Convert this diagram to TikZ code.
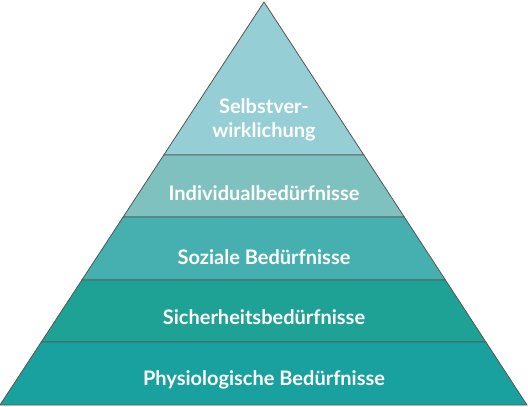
\documentclass[tikz,border=0pt]{standalone}
\usepackage{fontspec}
\setmainfont{Lato}
\usetikzlibrary{calc}

\definecolor{tierA}{HTML}{96CED6}
\definecolor{tierB}{HTML}{7EC1BF}
\definecolor{tierC}{HTML}{45B0AF}
\definecolor{tierD}{HTML}{1FA296}
\definecolor{tierE}{HTML}{18A19E}
\definecolor{edgegray}{HTML}{555555}

\begin{document}
\begin{tikzpicture}[x=1pt, y=-1pt,
    tier/.style={draw=edgegray, line width=.8pt, line join=miter},
    tiertext/.style={text=white, font=\bfseries\fontsize{20}{24}\selectfont, align=center}]

    \useasboundingbox (0,0) rectangle (528,407);

    \coordinate (apex) at (264,2);
    \coordinate (bl) at (0,405);
    \coordinate (br) at (527,405);

    % tiers, top to bottom
    \foreach \a/\b/\c in {0/.3797/tierA, .3797/.5335/tierB, .5335/.6898/tierC,
                          .6898/.8437/tierD, .8437/1/tierE}{
        \filldraw[tier, fill=\c] ($(apex)!\a!(bl)$) -- ($(apex)!\b!(bl)$)
            -- ($(apex)!\b!(br)$) -- ($(apex)!\a!(br)$) -- cycle;
    }

    \node[tiertext] (selbst) at (264,120) {Selbstver-\\wirklichung};
    \node[tiertext] (individual) at (264,193) {Individualbedürfnisse};
    \node[tiertext] (sozial) at (264,257) {Soziale Bedürfnisse};
    \node[tiertext] (sicher) at (264,317) {Sicherheitsbedürfnisse};
    \node[tiertext] (physio) at (264,380) {Physiologische Bedürfnisse};

\end{tikzpicture}
\end{document}
